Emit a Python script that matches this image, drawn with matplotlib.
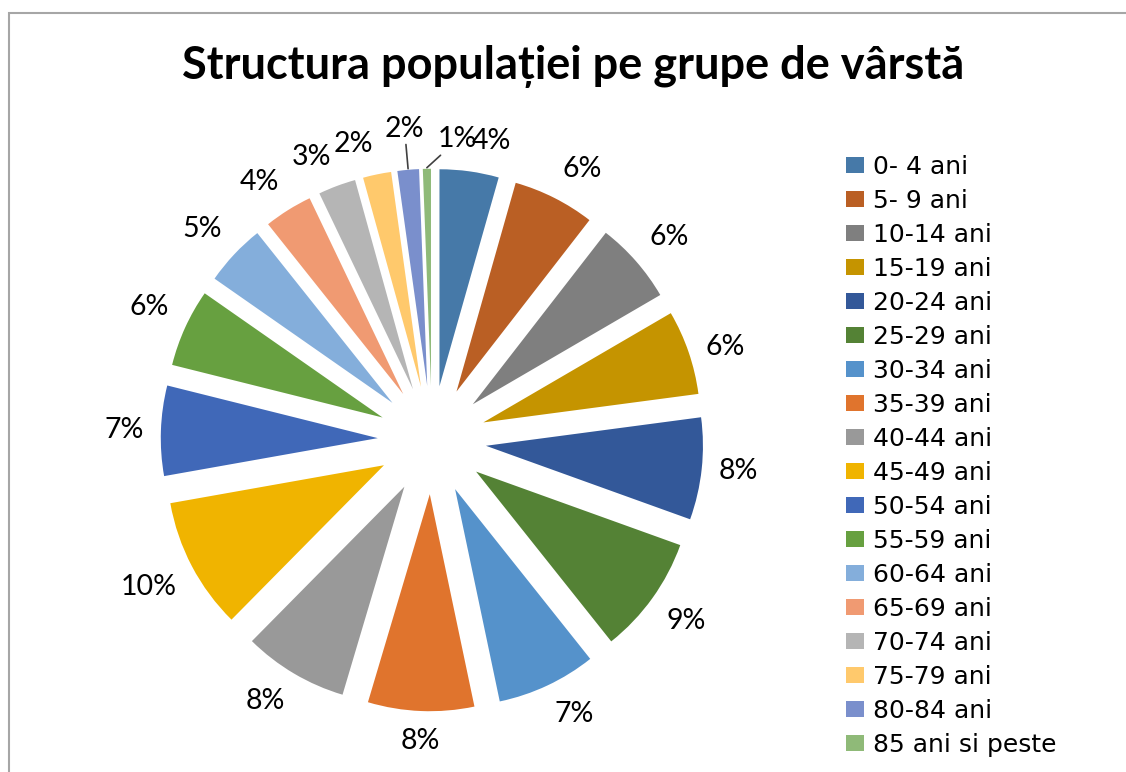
import numpy as np
import matplotlib.pyplot as plt
from matplotlib.patches import Rectangle

# grupe de varsta si ponderea lor (%)
grupe = ['0- 4 ani', '5- 9 ani', '10-14 ani', '15-19 ani', '20-24 ani',
         '25-29 ani', '30-34 ani', '35-39 ani', '40-44 ani', '45-49 ani',
         '50-54 ani', '55-59 ani', '60-64 ani', '65-69 ani', '70-74 ani',
         '75-79 ani', '80-84 ani', '85 ani si peste']
procente = [4.4, 6.1, 6.1, 6.3, 7.6, 8.8, 7.4, 7.9, 7.8, 9.8,
            6.7, 5.8, 4.6, 3.6, 2.8, 2.1, 1.6, 0.6]

culori = ['#4679A8', '#BA5F24', '#7F7F7F', '#C59400', '#335899', '#548235',
          '#5592CB', '#E0742D', '#999999', '#F0B400', '#4068B8', '#67A040',
          '#84AEDB', '#F09A72', '#B5B5B5', '#FFC96C', '#7A8FCC', '#8FBA78']

W, H = 1126, 772
fig = plt.figure(figsize=(W / 100, H / 100), dpi=100)

# pie centre and radius in pixels
cx, cy, R, S = 432, H - 440, 217, 330
ax = fig.add_axes([(cx - S) / W, (cy - S) / H, 2 * S / W, 2 * S / H])

wedges, _ = ax.pie(procente, colors=culori, startangle=90, counterclock=False,
                   explode=[0.25] * len(procente), radius=1,
                   wedgeprops=dict(linewidth=0))
ax.set_xlim(-S / R, S / R)
ax.set_ylim(-S / R, S / R)
ax.set_aspect('equal')
ax.axis('off')

total = sum(procente)
lab_font = dict(fontsize=20.5, family=['Lato', 'DejaVu Sans'], color='black')
leader = dict(arrowstyle='-', color='#404040', lw=1.2, shrinkA=0, shrinkB=0)
n = len(procente)
for i, (w, v) in enumerate(zip(wedges, procente)):
    txt = f'{round(v / total * 100):.0f}%'
    a = np.deg2rad((w.theta1 + w.theta2) / 2)
    x, y = np.cos(a), np.sin(a)
    if i == n - 2:
        ax.annotate(txt, xy=(1.255 * x, 1.255 * y), xytext=(1.44 * x, 1.44 * y),
                    ha='center', va='center', arrowprops=leader, **lab_font)
        continue
    if i == n - 1:
        b = a - np.deg2rad(6)
        ax.annotate(txt, xy=(1.255 * x, 1.255 * y),
                    xytext=(1.39 * np.cos(b), 1.39 * np.sin(b)),
                    ha='center', va='center', arrowprops=leader, **lab_font)
        continue
    ha = 'left' if x > 0.1 else ('right' if x < -0.1 else 'center')
    va = 'bottom' if y > 0.35 else ('top' if y < -0.35 else 'center')
    ax.text(1.33 * x, 1.33 * y, txt, ha=ha, va=va, **lab_font)

fig.text(573 / W, 1 - 67 / H, 'Structura populației pe grupe de vârstă',
         ha='center', va='center', fontsize=32.5, fontweight='bold',
         family=['Lato', 'DejaVu Sans'])

fs = 18
fpx = fs * 100 / 72
fig.legend(wedges, grupe, loc='upper left',
           bbox_to_anchor=(846 / W, 1 - 155 / H), frameon=False,
           prop=dict(family='DejaVu Sans', size=fs),
           handlelength=18 / fpx, handleheight=15 / fpx, handletextpad=9 / fpx,
           labelspacing=0.40, borderpad=0, borderaxespad=0)

# chart area border (extends past the right and bottom edges)
fig.add_artist(Rectangle((9 / W, -0.1), 1.2, 1 - 13 / H + 0.1,
                         transform=fig.transFigure, fill=False,
                         edgecolor='#A6A6A6', linewidth=1.5))

fig.savefig('out.png', dpi=100)
